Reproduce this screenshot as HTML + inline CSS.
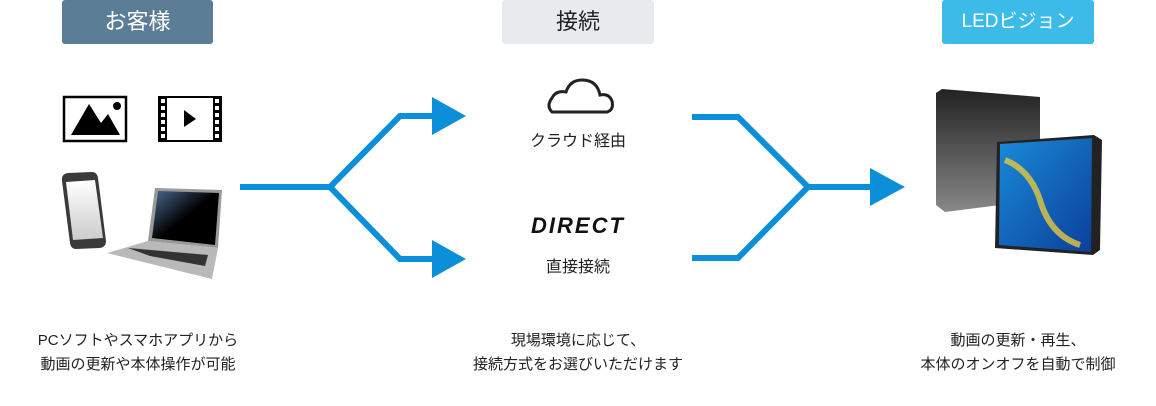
<!DOCTYPE html>
<html><head><meta charset="utf-8"><style>
body{margin:0;width:1156px;height:406px;background:#fff;position:relative;overflow:hidden;font-family:"Liberation Sans","Noto Sans CJK JP",sans-serif;}
.h{position:absolute;top:0;height:44px;line-height:44px;text-align:center;font-size:22px;border-radius:3px;}
.t{position:absolute;text-align:center;font-size:15px;line-height:24px;color:#222;}
</style></head><body>
<div class="h" style="left:62px;width:151px;background:#5b7d96;color:#fff">お客様</div>
<div class="h" style="left:502px;width:152px;background:#e7ebee;color:#222">接続</div>
<div class="h" style="left:942px;width:152px;background:#3cbbe9;color:#fff;font-size:19px">LEDビジョン</div>

<svg width="1156" height="406" style="position:absolute;left:0;top:0">
<g fill="none" stroke="#0a8fd8" stroke-width="6">
<path d="M240 187H330L400 116H440M330 187L400 259H440"/>
<path d="M692 117H738L808 187L738 258H692M808 187H875"/>
</g>
<g fill="#0a8fd8">
<path d="M432 97L466 116L432 135Z"/><path d="M432 240L466 259L432 278Z"/>
<path d="M870 168L905 187L870 206Z"/>
</g>
<rect x="64" y="97" width="62" height="44" fill="#fff" stroke="#000" stroke-width="2.5"/>
<path d="M71 135L89 104L101 123L108 114L120 135Z"/><circle cx="117" cy="106" r="4"/>
<rect x="158" y="96" width="64" height="46" fill="#000"/>
<rect x="167" y="98" width="46" height="42" fill="#fff"/>
<g fill="#fff"><rect x="161" y="99" width="4" height="4"/><rect x="161" y="106" width="4" height="4"/><rect x="161" y="113" width="4" height="4"/><rect x="161" y="120" width="4" height="4"/><rect x="161" y="127" width="4" height="4"/><rect x="161" y="134" width="4" height="4"/>
<rect x="215" y="99" width="4" height="4"/><rect x="215" y="106" width="4" height="4"/><rect x="215" y="113" width="4" height="4"/><rect x="215" y="120" width="4" height="4"/><rect x="215" y="127" width="4" height="4"/><rect x="215" y="134" width="4" height="4"/></g>
<path d="M184 110L196 119L184 127Z"/>
<defs><linearGradient id="ph" x1="0" y1="0" x2="0" y2="1"><stop offset="0" stop-color="#fff"/><stop offset="1" stop-color="#ccc"/></linearGradient>
<linearGradient id="sc" x1="0" y1="0" x2="1" y2="1"><stop offset="0" stop-color="#4a6a90"/><stop offset=".5" stop-color="#000"/></linearGradient>
<linearGradient id="led" x1="0" y1="0" x2="1" y2="1"><stop offset="0" stop-color="#1a8ad8"/><stop offset="1" stop-color="#0b3f9a"/></linearGradient>
<linearGradient id="blk" x1="0" y1="0" x2="0" y2="1"><stop offset="0" stop-color="#222"/><stop offset="1" stop-color="#888"/></linearGradient></defs>
<path d="M62 181Q61 174 68 173L92 172Q97 172 98 178L106 241Q106 247 100 248L76 249Q71 249 70 243Z" fill="#3a3a3a"/>
<path d="M66 182L95 180L103 238L73 240Z" fill="url(#ph)"/>
<path d="M155 188L222 190L218 248L148 241Z" fill="#999"/>
<path d="M158 191L219 193L215 245L152 238Z" fill="url(#sc)"/>
<path d="M148 241L218 248L212 279L107 253Z" fill="#b9b9b9"/>
<path d="M128 248L208 255L205 266L150 256Z" fill="#333"/>
<path d="M552 112H607Q614 110 612 101Q609 93 600 95Q597 80 582 80Q570 80 566 92Q556 90 552 98Q546 106 552 112Z" fill="none" stroke="#222" stroke-width="3"/>
<path d="M936 93L942 89L1040 97L1040 200L945 212L936 205Z" fill="url(#blk)"/>
<path d="M997 142L1094 135L1102 140L1100 250L1093 255L995 248Z" fill="#222"/>
<path d="M1000 144L1092 138L1091 252L999 245Z" fill="url(#led)"/>
<path d="M1005 160Q1030 170 1040 200Q1050 235 1080 245" stroke="#e6c840" stroke-width="6" fill="none" opacity=".8"/>
</svg>
<div style="position:absolute;left:518px;top:213px;width:120px;text-align:center;font:italic 900 22px 'Liberation Sans',sans-serif;letter-spacing:2px;color:#111">DIRECT</div>
<div class="t" style="left:478px;width:200px;top:130px;font-size:16px">クラウド経由</div>
<div class="t" style="left:478px;width:200px;top:256px;font-size:16px">直接接続</div>
<div class="t" style="left:0;width:276px;top:329px">PCソフトやスマホアプリから<br>動画の更新や本体操作が可能</div>
<div class="t" style="left:428px;width:300px;top:329px">現場環境に応じて、<br>接続方式をお選びいただけます</div>
<div class="t" style="left:868px;width:300px;top:329px">動画の更新・再生、<br>本体のオンオフを自動で制御</div>
</body></html>
